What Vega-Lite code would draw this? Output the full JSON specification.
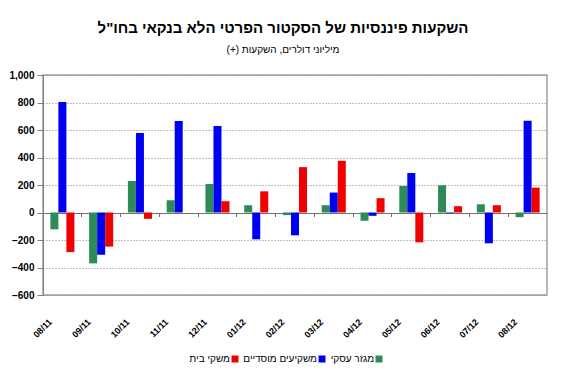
{
  "$schema": "https://vega.github.io/schema/vega-lite/v6.json",
  "autosize": {"type": "none"},
  "width": 504,
  "height": 220,
  "padding": {"left": 43, "top": 75, "right": 34, "bottom": 92},
  "background": "white",
  "title": {
    "text": "השקעות פיננסיות של הסקטור הפרטי הלא בנקאי בחו\"ל",
    "subtitle": "(+) מיליוני דולרים, השקעות",
    "anchor": "middle",
    "dx": -12,
    "offset": 15,
    "font": "Liberation Sans",
    "fontSize": 15,
    "fontWeight": "bold",
    "color": "black",
    "subtitleFont": "Liberation Sans",
    "subtitleFontSize": 10,
    "subtitleColor": "black",
    "subtitlePadding": 9
  },
  "config": {
    "font": "Liberation Sans",
    "view": {"stroke": "#a0a0a0", "strokeWidth": 1.5}
  },
  "resolve": {"axis": {"x": "independent"}},
  "data": {
    "values": [
      {"month": "08/11", "series": "מגזר עסקי", "value": -122},
      {"month": "08/11", "series": "משקיעים מוסדיים", "value": 803},
      {"month": "08/11", "series": "משקי בית", "value": -288},
      {"month": "09/11", "series": "מגזר עסקי", "value": -370},
      {"month": "09/11", "series": "משקיעים מוסדיים", "value": -308},
      {"month": "09/11", "series": "משקי בית", "value": -248},
      {"month": "10/11", "series": "מגזר עסקי", "value": 229},
      {"month": "10/11", "series": "משקיעים מוסדיים", "value": 578},
      {"month": "10/11", "series": "משקי בית", "value": -46},
      {"month": "11/11", "series": "מגזר עסקי", "value": 89},
      {"month": "11/11", "series": "משקיעים מוסדיים", "value": 666},
      {"month": "11/11", "series": "משקי בית", "value": 0},
      {"month": "12/11", "series": "מגזר עסקי", "value": 207},
      {"month": "12/11", "series": "משקיעים מוסדיים", "value": 630},
      {"month": "12/11", "series": "משקי בית", "value": 82},
      {"month": "01/12", "series": "מגזר עסקי", "value": 53},
      {"month": "01/12", "series": "משקיעים מוסדיים", "value": -195},
      {"month": "01/12", "series": "משקי בית", "value": 154},
      {"month": "02/12", "series": "מגזר עסקי", "value": -19},
      {"month": "02/12", "series": "משקיעים מוסדיים", "value": -166},
      {"month": "02/12", "series": "משקי בית", "value": 330},
      {"month": "03/12", "series": "מגזר עסקי", "value": 53},
      {"month": "03/12", "series": "משקיעים מוסדיים", "value": 145},
      {"month": "03/12", "series": "משקי בית", "value": 376},
      {"month": "04/12", "series": "מגזר עסקי", "value": -60},
      {"month": "04/12", "series": "משקיעים מוסדיים", "value": -24},
      {"month": "04/12", "series": "משקי בית", "value": 104},
      {"month": "05/12", "series": "מגזר עסקי", "value": 193},
      {"month": "05/12", "series": "משקיעים מוסדיים", "value": 287},
      {"month": "05/12", "series": "משקי בית", "value": -217},
      {"month": "06/12", "series": "מגזר עסקי", "value": 198},
      {"month": "06/12", "series": "משקיעים מוסדיים", "value": -5},
      {"month": "06/12", "series": "משקי בית", "value": 46},
      {"month": "07/12", "series": "מגזר עסקי", "value": 60},
      {"month": "07/12", "series": "משקיעים מוסדיים", "value": -224},
      {"month": "07/12", "series": "משקי בית", "value": 53},
      {"month": "08/12", "series": "מגזר עסקי", "value": -34},
      {"month": "08/12", "series": "משקיעים מוסדיים", "value": 667},
      {"month": "08/12", "series": "משקי בית", "value": 181}
    ]
  },
  "layer": [
    {
      "mark": {"type": "bar"},
      "encoding": {
        "x": {
          "field": "month",
          "type": "ordinal",
          "sort": null,
          "scale": {"paddingInner": 0.38, "paddingOuter": 0.19},
          "axis": {
            "orient": "bottom",
            "title": null,
            "domain": false,
            "ticks": false,
            "grid": false,
            "labelAngle": -45,
            "labelAlign": "right",
            "labelBaseline": "middle",
            "labelPadding": 25,
            "labelOffset": -12,
            "labelFontWeight": "bold",
            "labelFontSize": 9,
            "labelColor": "black"
          }
        },
        "xOffset": {
          "field": "series",
          "type": "nominal",
          "scale": {"domain": ["מגזר עסקי", "משקיעים מוסדיים", "משקי בית"], "paddingInner": 0}
        },
        "y": {
          "field": "value",
          "type": "quantitative",
          "scale": {"domain": [-600, 1000], "nice": false},
          "axis": {
            "title": null,
            "values": [-600, -400, -200, 0, 200, 400, 600, 800, 1000],
            "tickCount": 9,
            "labelOverlap": false,
            "format": ",d",
            "labelFontWeight": "bold",
            "labelFontSize": 10,
            "labelColor": "black",
            "labelPadding": 3,
            "tickColor": "#808080",
            "tickSize": 6,
            "domainColor": "#808080",
            "grid": true,
            "gridColor": {"condition": {"test": "datum.value === 0", "value": "#707070"}, "value": "#808080"},
            "gridDash": {"condition": {"test": "datum.value === 0", "value": []}, "value": [1, 2]},
            "gridWidth": 1
          }
        },
        "color": {
          "field": "series",
          "type": "nominal",
          "scale": {
            "domain": ["משקי בית", "משקיעים מוסדיים", "מגזר עסקי"],
            "range": ["#F00000", "#0000F0", "#2E8B57"]
          },
          "legend": {
            "title": null,
            "orient": "none",
            "legendX": 184,
            "legendY": 276,
            "direction": "horizontal",
            "symbolType": "square",
            "symbolSize": 49,
            "symbolStrokeWidth": 0,
            "labelFontSize": 10,
            "labelColor": "black",
            "labelAlign": "right",
            "labelOffset": -10,
            "columnPadding": 4,
            "padding": 3
          }
        }
      }
    },
    {
      "mark": {"type": "point", "opacity": 0},
      "encoding": {
        "x": {
          "field": "month",
          "type": "ordinal",
          "sort": null,
          "axis": {
            "orient": "bottom",
            "title": null,
            "labels": false,
            "domain": false,
            "grid": false,
            "ticks": true,
            "tickSize": 4,
            "tickColor": "#707070",
            "bandPosition": -0.306,
            "offset": -82.5
          }
        }
      }
    }
  ]
}
